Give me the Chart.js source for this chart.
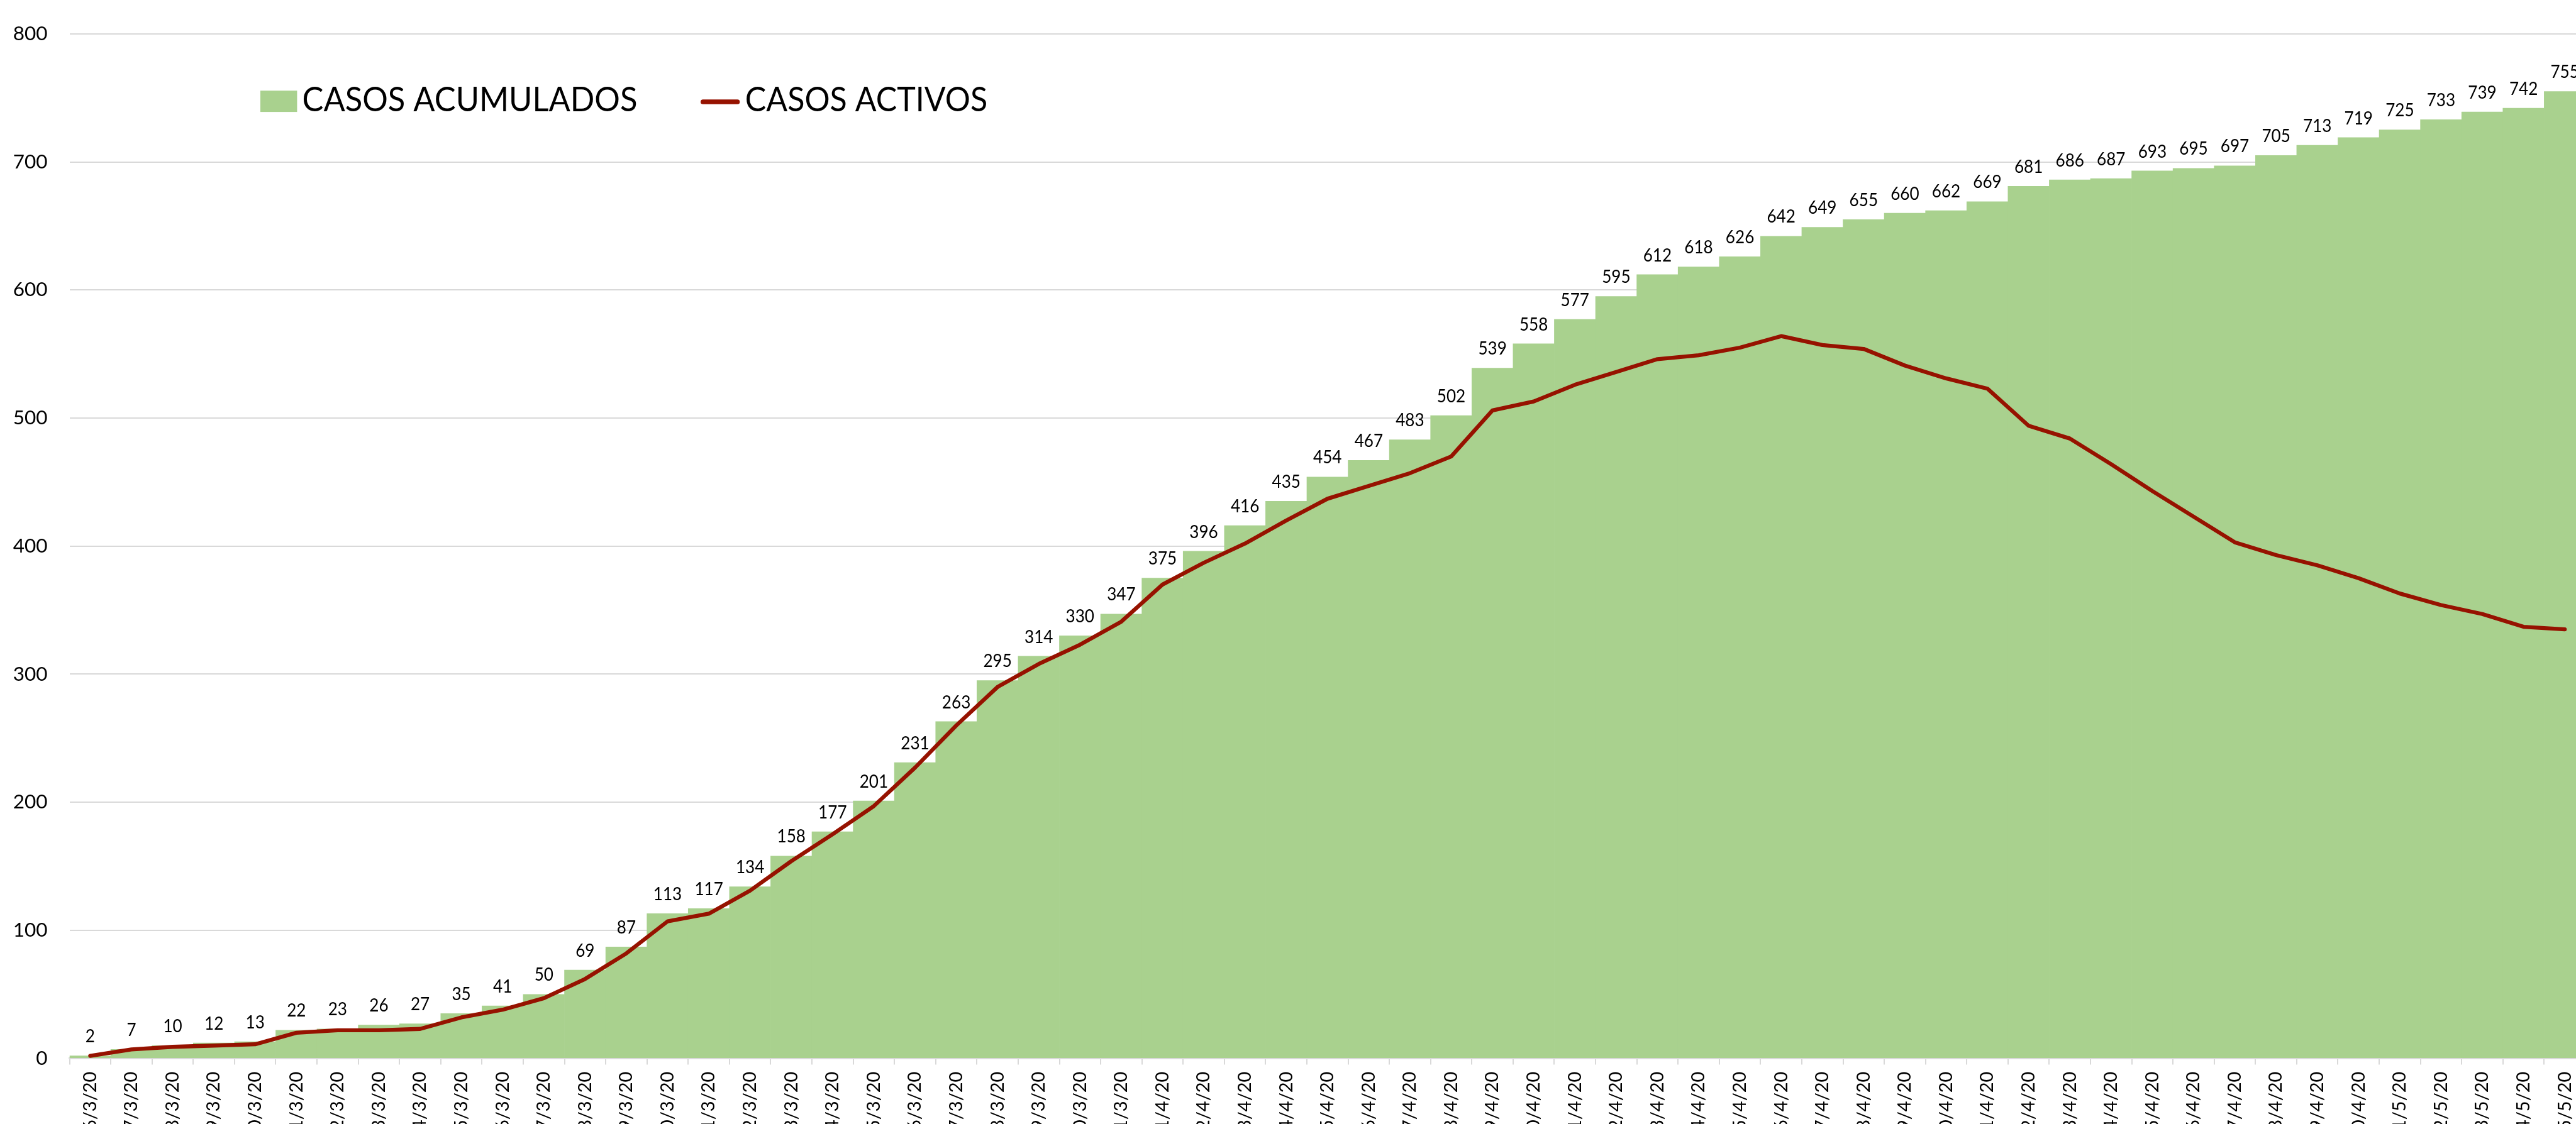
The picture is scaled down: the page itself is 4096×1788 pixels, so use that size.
<!DOCTYPE html>
<html>
<head>
<meta charset="utf-8">
<title>Casos acumulados y activos</title>
<script src="https://cdn.jsdelivr.net/npm/chart.js@4.4.1/dist/chart.umd.min.js"></script>
<style>
  html, body { margin: 0; padding: 0; background: #fff; overflow: hidden; width: 4096px; height: 1788px; }
  #wrap { position: absolute; left: 0; top: 0; width: 4124px; height: 1900px; }
</style>
</head>
<body>
<div id="wrap"><canvas id="chart" width="4124" height="1900"></canvas></div>
<script>
// ---------------- DATA ----------------
const fechas = [
  "6/3/20", "7/3/20", "8/3/20", "9/3/20", "10/3/20", "11/3/20", "12/3/20", "13/3/20",
  "14/3/20", "15/3/20", "16/3/20", "17/3/20", "18/3/20", "19/3/20", "20/3/20", "21/3/20",
  "22/3/20", "23/3/20", "24/3/20", "25/3/20", "26/3/20", "27/3/20", "28/3/20", "29/3/20",
  "30/3/20", "31/3/20", "1/4/20", "2/4/20", "3/4/20", "4/4/20", "5/4/20", "6/4/20",
  "7/4/20", "8/4/20", "9/4/20", "10/4/20", "11/4/20", "12/4/20", "13/4/20", "14/4/20",
  "15/4/20", "16/4/20", "17/4/20", "18/4/20", "19/4/20", "20/4/20", "21/4/20", "22/4/20",
  "23/4/20", "24/4/20", "25/4/20", "26/4/20", "27/4/20", "28/4/20", "29/4/20", "30/4/20",
  "1/5/20", "2/5/20", "3/5/20", "4/5/20", "5/5/20"
];

const casosAcumulados = [
  2, 7, 10, 12, 13, 22, 23, 26, 27, 35, 41, 50, 69, 87, 113, 117,
  134, 158, 177, 201, 231, 263, 295, 314, 330, 347, 375, 396, 416, 435, 454, 467,
  483, 502, 539, 558, 577, 595, 612, 618, 626, 642, 649, 655, 660, 662, 669, 681,
  686, 687, 693, 695, 697, 705, 713, 719, 725, 733, 739, 742, 755
];

const casosActivos = [
  2, 7, 9, 10, 11, 20, 22, 22, 23, 32, 38, 47, 62, 82, 107, 113,
  131, 154, 175, 197, 227, 260, 290, 308, 323, 341, 370, 387, 402, 420, 437, 447,
  457, 470, 506, 513, 526, 536, 546, 549, 555, 564, 557, 554, 541, 531, 523, 494,
  484, 464, 443, 423, 403, 393, 385, 375, 363, 354, 347, 337, 335
];

const nombresSeries = ["CASOS ACUMULADOS", "CASOS ACTIVOS"];

const VERDE = "#A9D18E";
const ROJO = "#961200";
const GRIS = "#D9D9D9";
const FUENTE = "Lato, 'Open Sans', sans-serif";

// ---------------- VALUE LABELS ----------------
const etiquetas = {
  id: "etiquetas",
  afterDatasetsDraw(chart) {
    const c = chart.ctx;
    const meta = chart.getDatasetMeta(0);
    c.save();
    c.font = "29px " + FUENTE;
    c.fillStyle = "#000";
    c.textAlign = "center";
    c.textBaseline = "alphabetic";
    meta.data.forEach((bar, i) => {
      c.save();
      c.translate(bar.x, bar.y - 21.3);
      c.scale(0.9, 1);
      c.fillText(String(chart.data.datasets[0].data[i]), 0, 0);
      c.restore();
    });
    c.restore();
  }
};

// ---------------- LEGEND ----------------
function textoAjustado(c, texto, x, y, ancho) {
  const w = c.measureText(texto).width;
  c.save();
  c.translate(x, y);
  c.scale(ancho / w, 1);
  c.fillText(texto, 0, 0);
  c.restore();
}

const leyenda = {
  id: "leyenda",
  afterDraw(chart) {
    const c = chart.ctx;
    const ds = chart.data.datasets;
    c.save();
    c.fillStyle = ds[0].backgroundColor;
    c.fillRect(414, 144.2, 58.4, 33.9);

    c.strokeStyle = ds[1].borderColor;
    c.lineWidth = 7.7;
    c.lineCap = "round";
    c.beginPath();
    c.moveTo(1117.8, 162);
    c.lineTo(1172.5, 162);
    c.stroke();

    c.font = "54px " + FUENTE;
    c.fillStyle = "#000";
    c.textAlign = "left";
    c.textBaseline = "alphabetic";
    textoAjustado(c, ds[0].label, 480.5, 177.4, 533);
    textoAjustado(c, ds[1].label, 1184.8, 177.4, 385.3);
    c.restore();
  }
};

// ---------------- CHART ----------------
const ALTO = 1900;

new Chart(document.getElementById("chart"), {
  type: "bar",
  data: {
    labels: fechas,
    datasets: [
      {
        type: "bar",
        label: nombresSeries[0],
        data: casosAcumulados,
        backgroundColor: VERDE,
        borderWidth: 0,
        categoryPercentage: 1,
        barPercentage: 1,
        order: 1
      },
      {
        type: "line",
        label: nombresSeries[1],
        data: casosActivos,
        borderColor: ROJO,
        backgroundColor: ROJO,
        borderWidth: 6.3,
        borderJoinStyle: "round",
        borderCapStyle: "round",
        pointRadius: 0,
        tension: 0,
        fill: false,
        order: 0
      }
    ]
  },
  options: {
    responsive: false,
    devicePixelRatio: 1,
    animation: false,
    layout: { padding: { top: 37.3, right: 4, left: 0, bottom: 0 } },
    plugins: {
      legend: { display: false },
      tooltip: { enabled: false }
    },
    scales: {
      x: {
        grid: {
          offset: true,
          drawOnChartArea: false,
          drawTicks: true,
          tickLength: 10,
          color: GRIS,
          lineWidth: 2
        },
        border: { color: GRIS, width: 2.5 },
        ticks: {
          autoSkip: false,
          minRotation: 90,
          maxRotation: 90,
          padding: 11,
          color: "#000",
          font: { family: FUENTE, size: 29 }
        },
        afterFit(scale) { scale.height = ALTO - 1683.6; }
      },
      y: {
        min: 0,
        max: 800,
        ticks: {
          stepSize: 100,
          padding: 35,
          color: "#000",
          font: { family: FUENTE, size: 31.5 }
        },
        grid: { color: GRIS, lineWidth: 2, drawTicks: false },
        border: { display: false },
        afterFit(scale) { scale.width = 110.6; }
      }
    }
  },
  plugins: [etiquetas, leyenda]
});
</script>
</body>
</html>
